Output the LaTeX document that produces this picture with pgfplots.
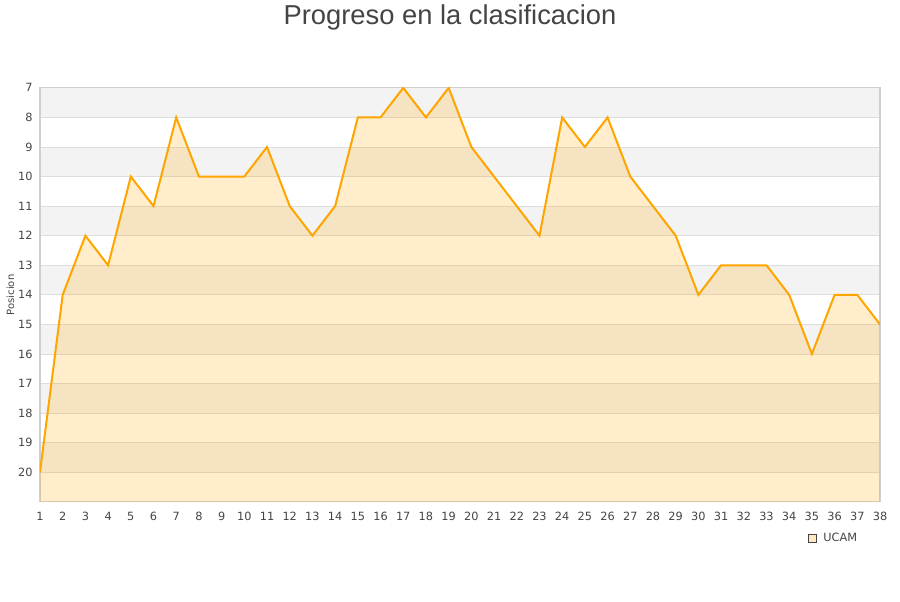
\documentclass[border=0pt]{standalone}
\usepackage{pgfplots}
\pgfplotsset{compat=1.18}
\usepgfplotslibrary{fillbetween}
\usepackage{fontspec}
\setmainfont{DejaVu Sans}
\newfontfamily\titlefont{Liberation Sans}
\definecolor{lineor}{HTML}{FFA500}
\definecolor{band}{HTML}{F3F3F3}
\definecolor{gridc}{HTML}{DDDDDD}
\definecolor{txt}{HTML}{444444}
\begin{document}
\begin{tikzpicture}
\begin{axis}[
    set layers,
    scale only axis,
    width=630pt, height=310.5pt,
    xmin=1, xmax=38,
    ymin=7, ymax=21,
    y dir=reverse,
    xtick={1,...,38},
    ytick={7,...,20},
    ymajorgrids,
    grid style={gridc, line width=0.6pt},
    axis line style={draw=gridc!85!gray, line width=0.8pt},
    major tick length=0pt,
    tick label style={font=\fontsize{8.5}{10}\selectfont, text=txt},
    /pgf/number format/assume math mode=true,
    xticklabel style={yshift=-4pt},
    yticklabel style={xshift=-2pt},
    ylabel={Posicion},
    ylabel style={font=\fontsize{7.5}{9}\selectfont, text=txt, yshift=-4pt},
    clip=true,
    legend style={at={(1,-0.087)}, anchor=east, xshift=-9pt, draw=none, fill=none,
        font=\fontsize{8.5}{10}\selectfont, text=txt, nodes={inner xsep=5pt}},
    legend cell align=left,
]
\begin{pgfonlayer}{axis background}
\foreach \b in {7,9,...,19} {
    \edef\tmp{\noexpand\fill[band] (axis cs:1,\b) rectangle (axis cs:38,\b+1);}
    \tmp
}
\end{pgfonlayer}
\addplot[draw=none, name path=base, forget plot] coordinates {(1,21) (38,21)};
\addplot[color=lineor, line width=1.5pt, name path=pos, forget plot] coordinates {
    (1,20) (2,14) (3,12) (4,13) (5,10) (6,11) (7,8) (8,10) (9,10) (10,10)
    (11,9) (12,11) (13,12) (14,11) (15,8) (16,8) (17,7) (18,8) (19,7) (20,9)
    (21,10) (22,11) (23,12) (24,8) (25,9) (26,8) (27,10) (28,11) (29,12) (30,14)
    (31,13) (32,13) (33,13) (34,14) (35,16) (36,14) (37,14) (38,15)
};
\addplot[fill=lineor, fill opacity=0.2, draw=none, forget plot] fill between[of=pos and base];
\addlegendimage{legend image code/.code={\draw[fill=lineor!25, draw=txt, line width=0.4pt] (0pt,-3pt) rectangle (6pt,3pt);}}
\addlegendentry{UCAM}
\end{axis}
\node[font=\titlefont\fontsize{20.5}{23}\selectfont, text=txt] at (307.5pt,363.5pt) {Progreso en la clasificacion};
\path[use as bounding box] (-30pt,-75pt) rectangle (645pt,375pt);
\end{tikzpicture}
\end{document}
